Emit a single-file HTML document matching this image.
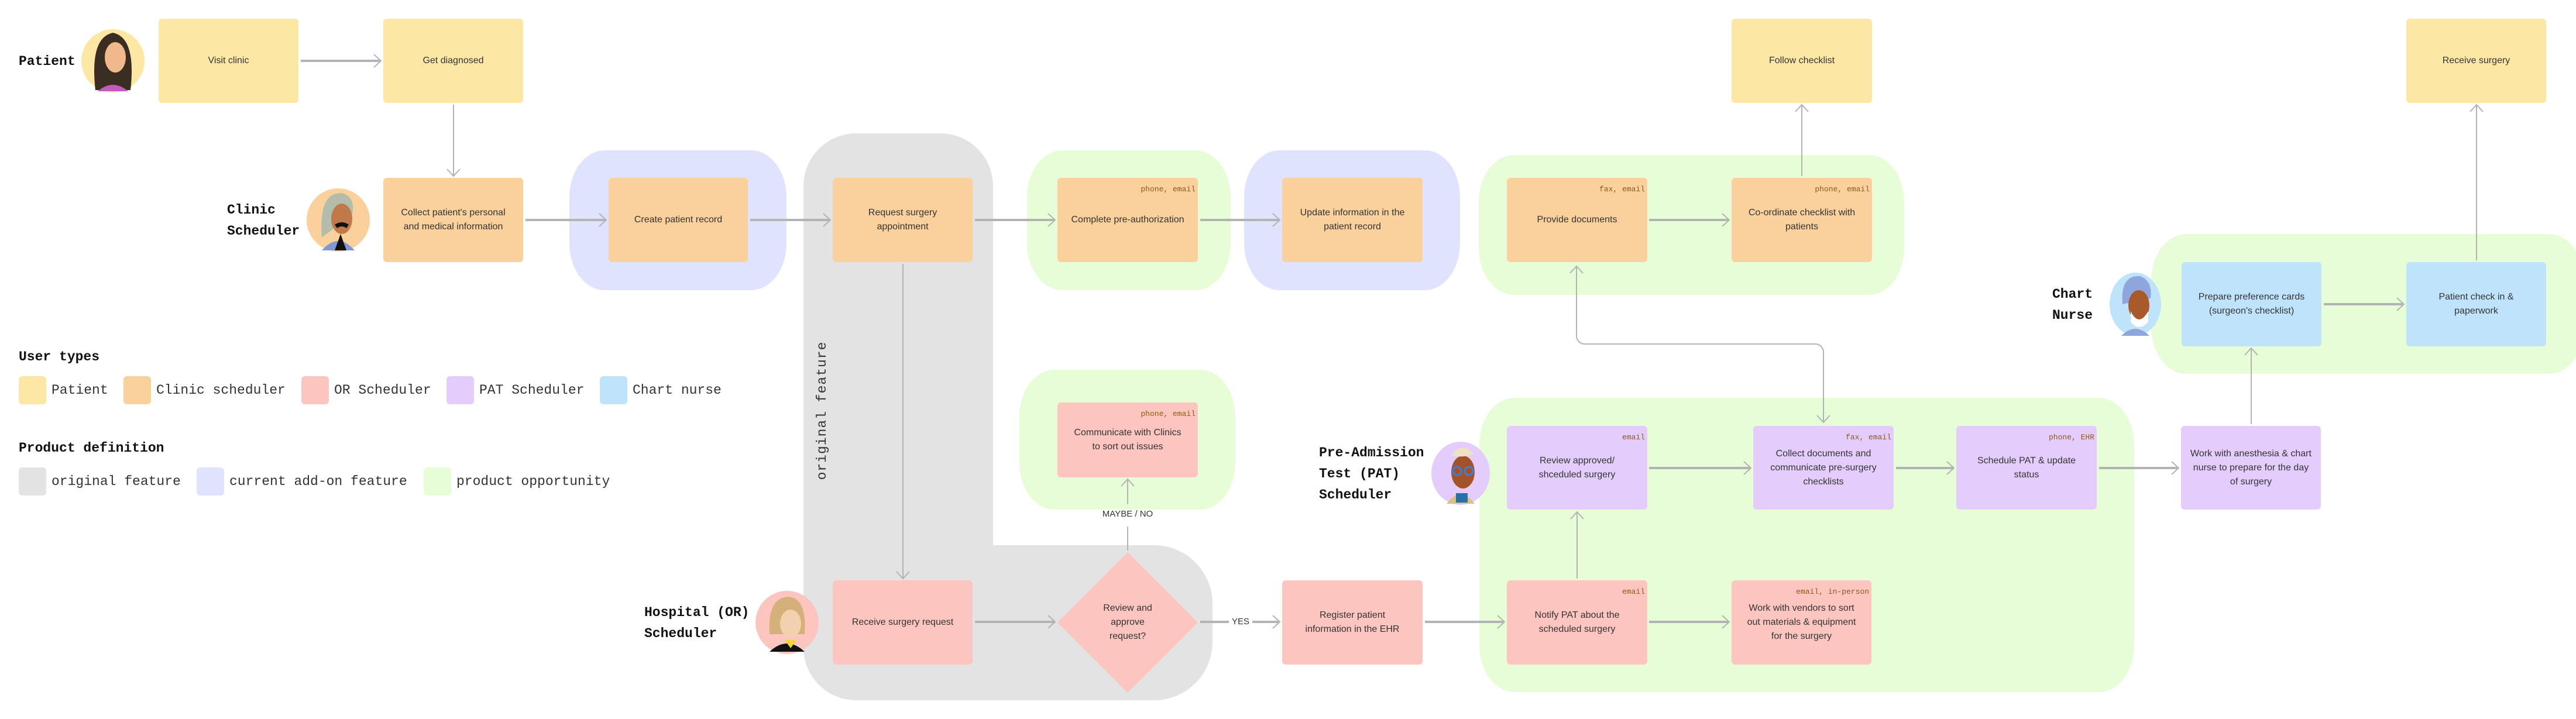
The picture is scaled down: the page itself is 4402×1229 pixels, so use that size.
<!DOCTYPE html>
<html><head><meta charset="utf-8"><style>
*{margin:0;padding:0;box-sizing:border-box}
body{width:4402px;height:1229px;background:#fff;position:relative;overflow:hidden;font-family:"Liberation Sans",sans-serif}
.g{position:absolute;border-radius:60px/80px}
.b{position:absolute;border-radius:6px;display:flex;align-items:center;justify-content:center;text-align:center;font-size:16px;line-height:24px;color:#333;padding:0 24px}
.t{position:absolute;right:4px;top:8px;font-family:"Liberation Mono",monospace;font-size:13px;color:#8b5a14}
.y{background:#fde7a5}.o{background:#fad19c}.p{background:#fcc5c0}.u{background:#e4cdfc}.c{background:#c0e3fc}
.lab{position:absolute;font-family:"Liberation Mono",monospace;font-weight:bold;font-size:23px;line-height:36px;color:#111}
.lg{position:absolute;font-family:"Liberation Mono",monospace;font-size:23px;color:#333;line-height:48px}
.sw{position:absolute;width:47px;height:48px;border-radius:6px}
svg{position:absolute;left:0;top:0}
</style></head><body>

<svg width="4402" height="1229">
<path d="M1373 318 A90 90 0 0 1 1463 228 H1607 A90 90 0 0 1 1697 318 V932 H1972 A100 100 0 0 1 2072 1032 V1097 A100 100 0 0 1 1972 1197 H1463 A90 90 0 0 1 1373 1107 Z" fill="#e3e3e3"/>
</svg>
<div class="g" style="left:973px;top:257px;width:371px;height:239px;background:#dfe3fd"></div>
<div class="g" style="left:1755px;top:257px;width:348px;height:239px;background:#e7fdd7"></div>
<div class="g" style="left:2126px;top:257px;width:369px;height:239px;background:#dfe3fd"></div>
<div class="g" style="left:2527px;top:265px;width:727px;height:239px;background:#e7fdd7"></div>
<div class="g" style="left:1742px;top:632px;width:369px;height:239px;background:#e7fdd7"></div>
<div class="g" style="left:2528px;top:680px;width:1119px;height:503px;background:#e7fdd7"></div>
<div class="g" style="left:3676px;top:400px;width:740px;height:239px;background:#e7fdd7"></div>

<div style="position:absolute;left:1405px;top:702px;transform:translate(-50%,-50%) rotate(-90deg);font-family:'Liberation Mono',monospace;font-size:23px;color:#333;white-space:nowrap;letter-spacing:1px">original feature</div>

<svg width="4402" height="1229" fill="none" stroke="#b3b3b3">
<g stroke-width="4">
<path d="M514 104H649"/><path d="M898 376H1034"/><path d="M1282 376H1417"/><path d="M1666 376H1801"/><path d="M2051 376H2185"/><path d="M2818 376H2953"/>
<path d="M2818 800H2990"/><path d="M3240 800H3337"/><path d="M3587 800H3721"/>
<path d="M1666 1063H1801"/><path d="M2051 1063H2100"/><path d="M2140 1063H2185"/><path d="M2435 1063H2569"/><path d="M2818 1063H2953"/>
<path d="M3971 520H4106"/>
</g>
<g stroke-width="2">
<path d="M639 93L651 104L639 115M1024 365L1036 376L1024 387M1407 365L1419 376L1407 387M1791 365L1803 376L1791 387M2175 365L2187 376L2175 387M2943 365L2955 376L2943 387"/>
<path d="M2980 789L2992 800L2980 811M3327 789L3339 800L3327 811M3711 789L3723 800L3711 811"/>
<path d="M1791 1052L1803 1063L1791 1074M2175 1052L2187 1063L2175 1074M2559 1052L2571 1063L2559 1074M2943 1052L2955 1063L2943 1074M4096 509L4108 520L4096 531"/>
<path d="M775 179V301M764 289L775 301L786 289"/>
<path d="M1543 451V989M1532 977L1543 989L1554 977"/>
<path d="M1927 941V900M1927 862V819M1916 831L1927 819L1938 831"/>
<path d="M2695 989V875M2684 887L2695 875L2706 887"/>
<path d="M3079 301V179M3068 191L3079 179L3090 191"/>
<path d="M4232 445V179M4221 191L4232 179L4243 191"/>
<path d="M3847 725V595M3836 607L3847 595L3858 607"/>
<path d="M2694 455V574A14 14 0 0 0 2708 588H3102A14 14 0 0 1 3116 602V722"/>
<path d="M2683 467L2694 455L2705 467M3105 710L3116 722L3127 710"/>
</g>
</svg>
<div style="position:absolute;left:2100px;top:1054px;width:40px;text-align:center;font-size:15px;color:#333">YES</div>
<div style="position:absolute;left:1867px;top:870px;width:120px;text-align:center;font-size:15px;color:#333">MAYBE / NO</div>

<div class="b y" style="left:271px;top:32px;width:239px;height:144px">Visit clinic</div>
<div class="b y" style="left:655px;top:32px;width:239px;height:144px">Get diagnosed</div>
<div class="b y" style="left:2959px;top:32px;width:240px;height:144px">Follow checklist</div>
<div class="b y" style="left:4112px;top:32px;width:239px;height:144px">Receive surgery</div>

<div class="b o" style="left:655px;top:304px;width:239px;height:144px;padding:0 18px">Collect patient's personal and medical information</div>
<div class="b o" style="left:1040px;top:304px;width:238px;height:144px">Create patient record</div>
<div class="b o" style="left:1423px;top:304px;width:239px;height:144px">Request surgery appointment</div>
<div class="b o" style="left:1807px;top:304px;width:240px;height:144px;padding:0 10px"><span class="t">phone, email</span>Complete pre-authorization</div>
<div class="b o" style="left:2191px;top:304px;width:240px;height:144px">Update information in the patient record</div>
<div class="b o" style="left:2575px;top:304px;width:240px;height:144px"><span class="t">fax, email</span>Provide documents</div>
<div class="b o" style="left:2959px;top:304px;width:240px;height:144px"><span class="t">phone, email</span>Co-ordinate checklist with patients</div>

<div class="b c" style="left:3728px;top:448px;width:239px;height:144px">Prepare preference cards (surgeon's checklist)</div>
<div class="b c" style="left:4112px;top:448px;width:239px;height:144px">Patient check in &amp; paperwork</div>

<div class="b p" style="left:1807px;top:688px;width:240px;height:128px"><span class="t">phone, email</span>Communicate with Clinics to sort out issues</div>

<div class="b u" style="left:2575px;top:728px;width:240px;height:143px"><span class="t">email</span>Review approved/ shceduled surgery</div>
<div class="b u" style="left:2996px;top:728px;width:240px;height:143px;padding:0 14px"><span class="t">fax, email</span>Collect documents and communicate pre-surgery checklists</div>
<div class="b u" style="left:3343px;top:728px;width:240px;height:143px"><span class="t">phone, EHR</span>Schedule PAT &amp; update status</div>
<div class="b u" style="left:3727px;top:728px;width:239px;height:143px;padding:0 14px">Work with anesthesia &amp; chart nurse to prepare for the day of surgery</div>

<div class="b p" style="left:1423px;top:992px;width:239px;height:144px;padding:0 10px">Receive surgery request</div>
<svg width="4402" height="1229"><path d="M1927 944L2047 1064L1927 1184L1807 1064Z" fill="#fcc5c0"/></svg>
<div class="b" style="left:1867px;top:1024px;width:120px;height:80px;padding:0">Review and approve request?</div>
<div class="b p" style="left:2191px;top:992px;width:240px;height:144px">Register patient information in the EHR</div>
<div class="b p" style="left:2575px;top:992px;width:240px;height:144px"><span class="t">email</span>Notify PAT about the scheduled surgery</div>
<div class="b p" style="left:2959px;top:992px;width:239px;height:144px;padding:0 20px"><span class="t">email, in-person</span>Work with vendors to sort out materials &amp; equipment for the surgery</div>

<div class="lab" style="left:32px;top:87px">Patient</div>
<div class="lab" style="left:388px;top:341px">Clinic<br>Scheduler</div>
<div class="lab" style="left:1101px;top:1029px">Hospital (OR)<br>Scheduler</div>
<div class="lab" style="left:2254px;top:756px">Pre-Admission<br>Test (PAT)<br>Scheduler</div>
<div class="lab" style="left:3507px;top:485px">Chart<br>Nurse</div>

<svg width="4402" height="1229">
<g transform="translate(193,104)"><circle r="54" fill="#fde7a5"/><path d="M-30 50 Q-40 -40 0 -48 Q40 -40 30 50Z" fill="#3a2e22"/><ellipse cx="4" cy="-6" rx="18" ry="26" fill="#efb98c"/><path d="M-26 52 Q0 30 26 52Z" fill="#c25bb9"/></g>
<g transform="translate(578,376)"><circle r="54" fill="#fad19c"/><path d="M-28 30 Q-34 -48 6 -46 Q30 -40 24 -10Z" fill="#b4bcaa"/><ellipse cx="6" cy="-2" rx="18" ry="26" fill="#c07a4a"/><path d="M-6 8 Q6 0 18 8 L14 14 Q6 8 -2 14Z" fill="#111"/><path d="M-28 52 Q0 20 28 52Z" fill="#7e9ad6"/><path d="M-6 52 L4 24 L14 52Z" fill="#111"/></g>
<g transform="translate(1345,1064)"><circle r="54" fill="#fcc5c0"/><path d="M-30 20 Q-34 -44 4 -44 Q34 -40 30 20Z" fill="#d6b07a"/><ellipse cx="6" cy="2" rx="18" ry="24" fill="#f2d2ae"/><path d="M-30 50 Q0 22 30 50Z" fill="#111"/><path d="M-4 30 L6 44 L16 30Z" fill="#f5d23a"/></g>
<g transform="translate(2496,809)"><ellipse rx="50" ry="54" fill="#e4cdfc"/><path d="M-24 52 Q0 20 24 52Z" fill="#d8c08a"/><ellipse cx="4" cy="-2" rx="20" ry="28" fill="#a3532a"/><path d="M-14 -34 Q4 -54 22 -34 Q10 -26 -14 -30Z" fill="#f1e1c4"/><circle cx="-6" cy="-4" r="7" fill="none" stroke="#3d7de0" stroke-width="3"/><circle cx="14" cy="-4" r="7" fill="none" stroke="#3d7de0" stroke-width="3"/><rect x="-8" y="34" width="20" height="16" fill="#2a6fa8"/></g>
<g transform="translate(3649,520)"><ellipse rx="44" ry="54" fill="#c0e3fc"/><path d="M-22 0 Q-26 -50 8 -48 Q30 -40 26 -10Z" fill="#8ea6dd"/><ellipse cx="6" cy="2" rx="18" ry="26" fill="#a85a2a"/><path d="M-8 12 Q6 40 22 12 L22 30 Q6 48 -8 30Z" fill="#fff"/><path d="M-24 54 Q0 30 24 54Z" fill="#8ea6dd"/></g>
</svg>

<div class="lab" style="left:32px;top:592px">User types</div>
<div class="sw y" style="left:32px;top:643px"></div><div class="lg" style="left:88px;top:643px">Patient</div>
<div class="sw o" style="left:211px;top:643px"></div><div class="lg" style="left:267px;top:643px">Clinic scheduler</div>
<div class="sw p" style="left:515px;top:643px"></div><div class="lg" style="left:571px;top:643px">OR Scheduler</div>
<div class="sw u" style="left:763px;top:643px"></div><div class="lg" style="left:819px;top:643px">PAT Scheduler</div>
<div class="sw c" style="left:1025px;top:643px"></div><div class="lg" style="left:1081px;top:643px">Chart nurse</div>
<div class="lab" style="left:32px;top:748px">Product definition</div>
<div class="sw" style="left:32px;top:799px;background:#e3e3e3"></div><div class="lg" style="left:88px;top:799px">original feature</div>
<div class="sw" style="left:336px;top:799px;background:#dfe3fd"></div><div class="lg" style="left:392px;top:799px">current add-on feature</div>
<div class="sw" style="left:724px;top:799px;background:#e7fdd7"></div><div class="lg" style="left:780px;top:799px">product opportunity</div>
</body></html>
